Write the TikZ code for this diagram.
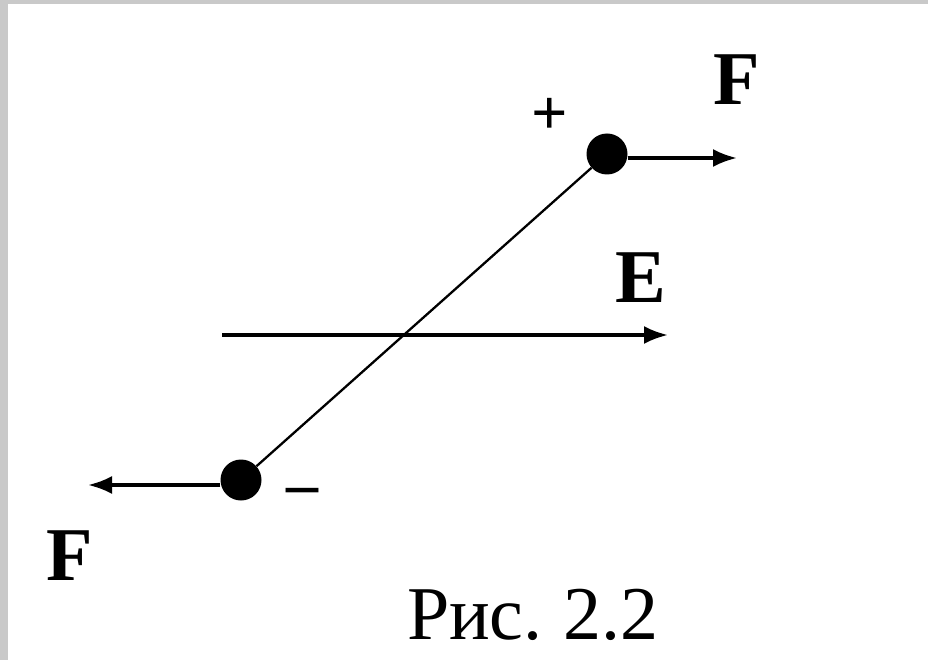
\documentclass[tikz,border=0pt]{standalone}
\usepackage{fontspec}
\setmainfont{Liberation Serif}
\usetikzlibrary{arrows.meta}
\tikzset{
  charge/.style={circle,fill=black,inner sep=0pt,minimum size=41pt},
  force/.style={line width=3.5pt,-{Latex[length=24pt,width=18pt]}},
  lbl/.style={font=\fontsize{76}{76}\selectfont\bfseries,inner sep=0pt},
  sign/.style={font=\fontsize{64}{64}\selectfont,inner sep=0pt}
}
\begin{document}
\begin{tikzpicture}[x=1pt,y=-1pt]
\useasboundingbox (0,0) rectangle (928,660);
\fill[white] (0,0) rectangle (928,660);
\fill[black!21] (0,0) rectangle (928,4);
\fill[black!21] (0,0) rectangle (8,660);
% charges
\node[charge] (pos) at (607,154) {};
\node[charge] (neg) at (241,480) {};
% dipole axis
\draw[line width=2.3pt] (neg) -- (pos);
% field
\coordinate (e0) at (222,335);
\coordinate (e1) at (668,335);
\draw[force] (e0) -- (e1);
% forces
\coordinate (fp) at (737,158);
\coordinate (fn) at (88,485);
\draw[force] (pos.east) ++(0,4) coordinate (ps) -- (fp);
\draw[force] (neg.west) ++(0,5) coordinate (ns) -- (fn);
% labels
\node[lbl] (Ftop) at (737,80) {F};
\node[lbl] (E) at (641,278) {E};
\node[lbl] (Fbot) at (70,556) {F};
\node[sign] (plus) at (550,116) {\textbf{+}};
\node[sign] (minus) at (303,497) {\textbf{–}};
\node[inner sep=0pt,font=\fontsize{76}{76}\selectfont] (cap) at (533,615) {Рис.\hspace{-4pt} 2.2};
\end{tikzpicture}
\end{document}
